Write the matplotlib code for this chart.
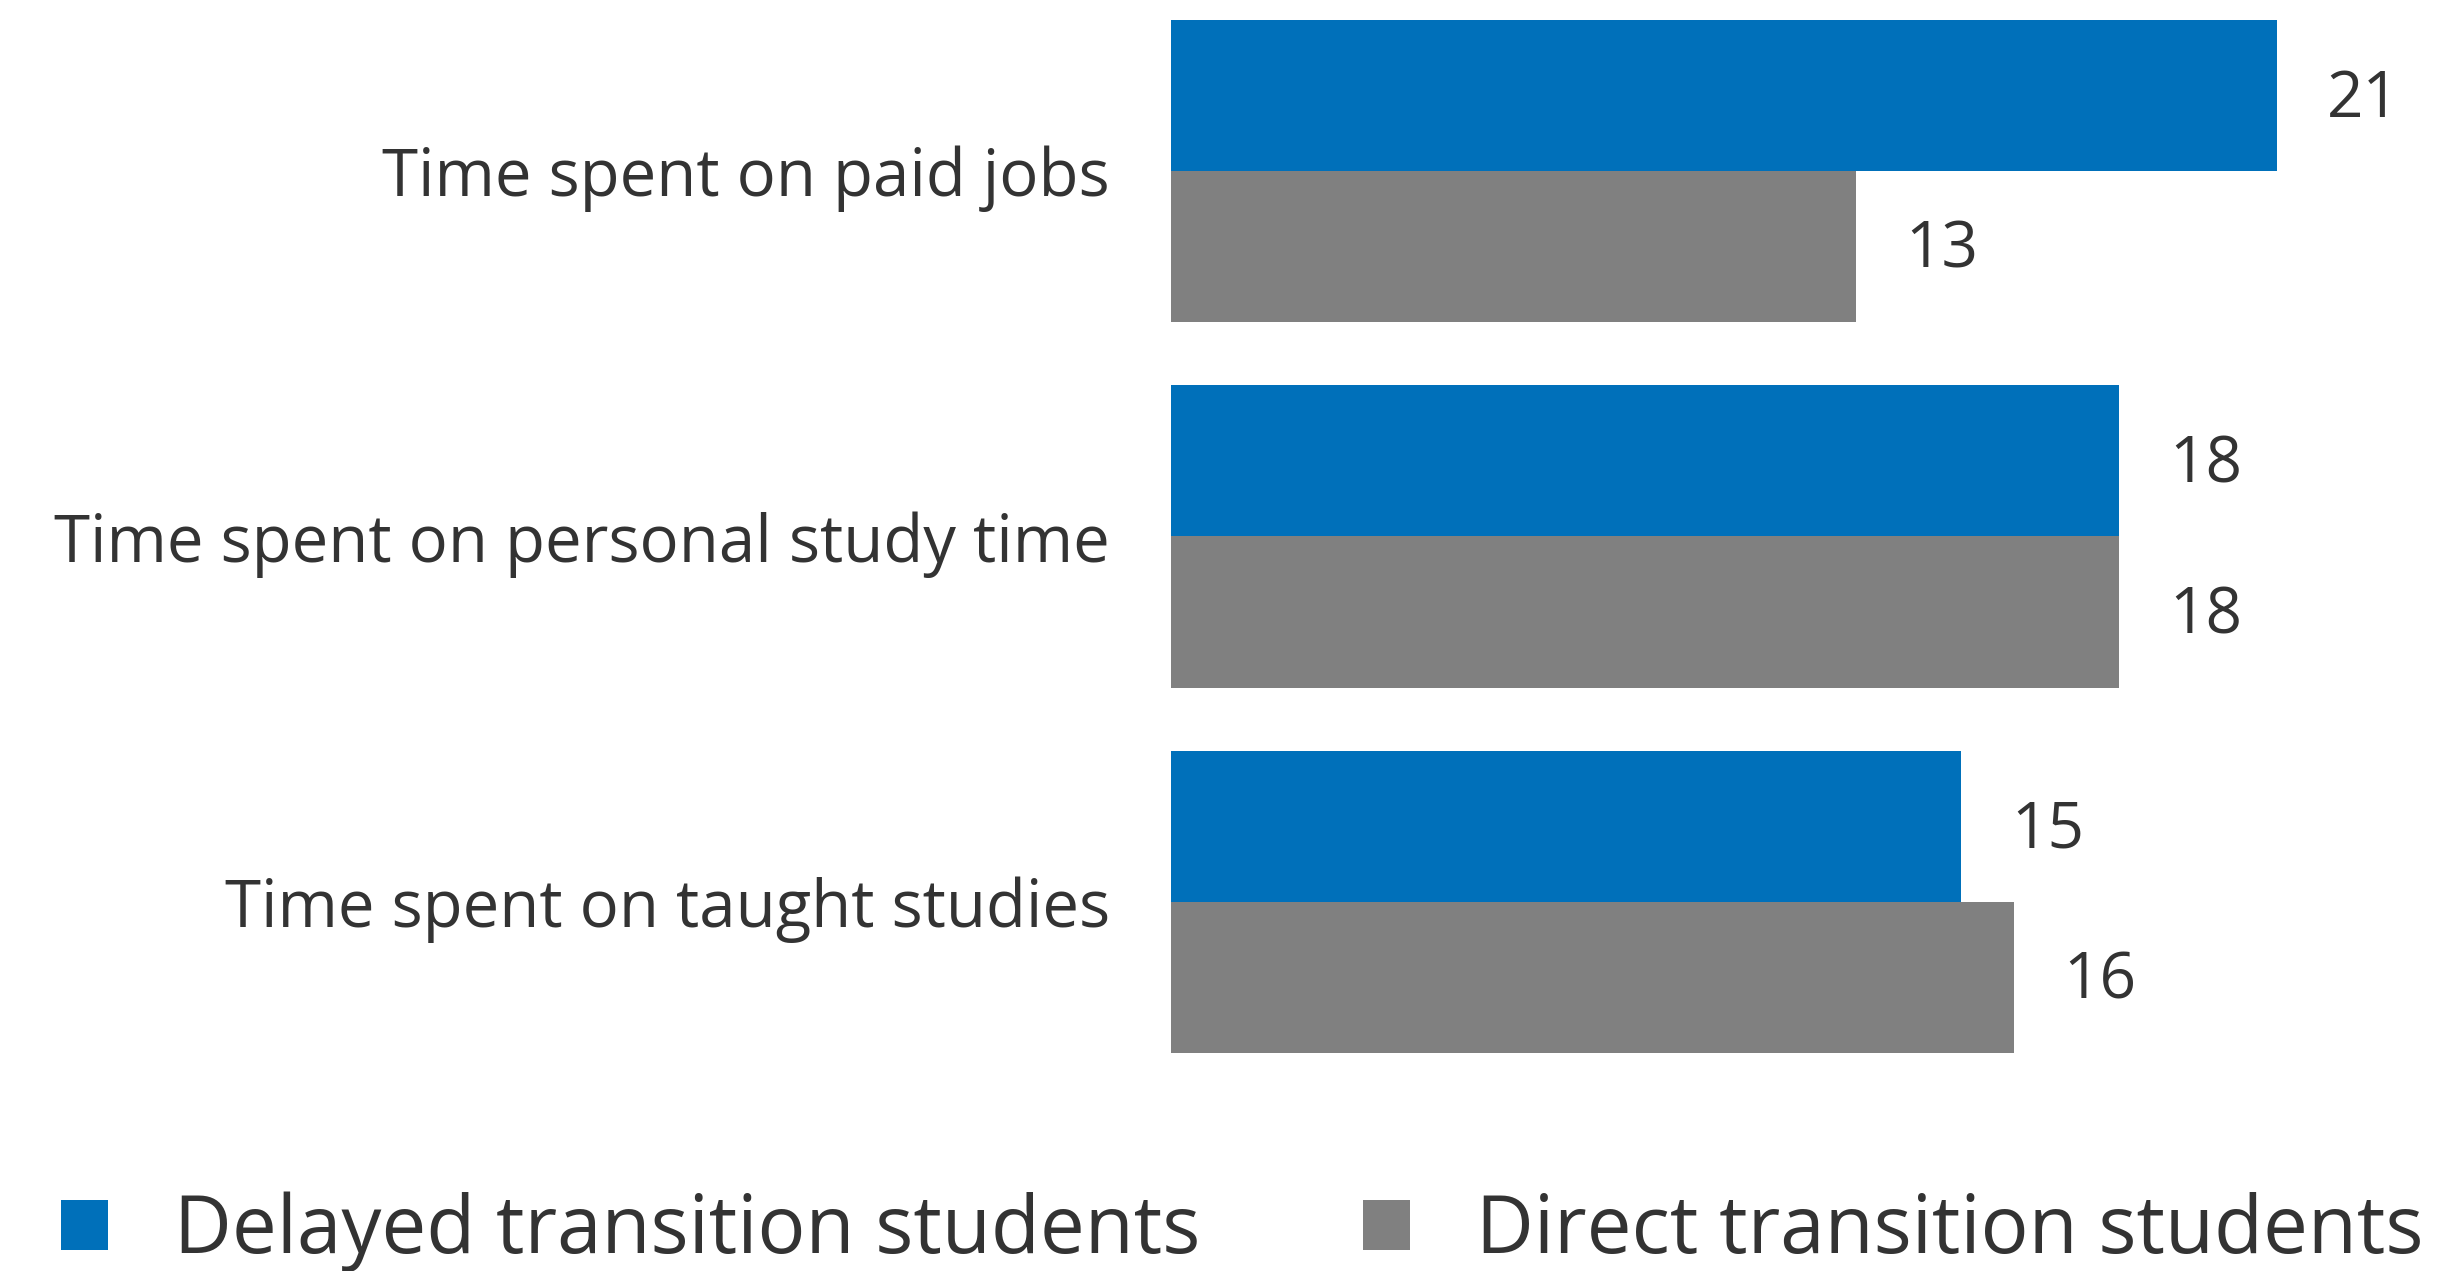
import matplotlib
matplotlib.use("Agg")
import matplotlib.pyplot as plt
import numpy as np

categories = ["Time spent on paid jobs", "Time spent on personal study time", "Time spent on taught studies"]
series_names = ["Delayed transition students", "Direct transition students"]
delayed = [21, 18, 15]
direct = [13, 18, 16]

BLUE = "#0070BA"
GRAY = "#808080"
TXT = "#333333"

plt.rcParams['font.family'] = ['Open Sans', 'DejaVu Sans']

W, H = 2442, 1271
fig = plt.figure(figsize=(W / 100, H / 100), dpi=100)
ax_left = 1171 / W
ax_right = 2436 / W
xmax = (2436 - 1171) / 52.67
ax_top_px, ax_bot_px = 10, 1070
ax = fig.add_axes([ax_left, 1 - ax_bot_px / H, ax_right - ax_left, (ax_bot_px - ax_top_px) / H])

y = np.arange(len(categories))
h = 0.414
b1 = ax.barh(y - h / 2, delayed, height=h, color=BLUE, label=series_names[0])
b2 = ax.barh(y + h / 2, direct, height=h, color=GRAY, label=series_names[1])

ax.set_xlim(0, xmax)
ax.set_ylim(2 + (1070 - 902) / 365, 0 - (171 - 10) / 365)

for bars in (b1, b2):
    for r in bars:
        v = r.get_width()
        ax.annotate(f"{v:g}", xy=(v, r.get_y() + r.get_height() / 2), xytext=(36, -3),
                    textcoords="offset points", va="center", ha="left",
                    fontsize=46, color=TXT)

ax.set_yticks(y)
ax.set_yticklabels(categories, fontsize=47, color=TXT)
ax.tick_params(axis="y", length=0, pad=44)
ax.set_xticks([])
for s in ax.spines.values():
    s.set_visible(False)

leg = fig.legend(handles=[b1, b2], labels=series_names, loc="center", bbox_to_anchor=(0.5086, 1 - 1232 / H),
                 ncol=2, frameon=False, fontsize=57.5, handlelength=0.59, handleheight=0.59,
                 handletextpad=0.82, columnspacing=2.04, labelcolor=TXT)

fig.savefig("out.png", dpi=100, facecolor="white")
